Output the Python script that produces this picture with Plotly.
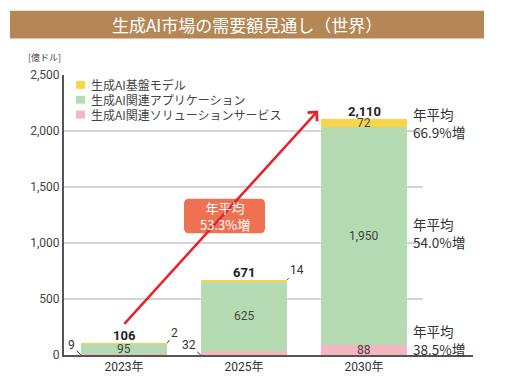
import plotly.graph_objects as go

# ---- data ----
years = ["2023年", "2025年", "2030年"]
solution = [9, 32, 88]        # 生成AI関連ソリューションサービス
application = [95, 625, 1950] # 生成AI関連アプリケーション
model = [2, 14, 72]           # 生成AI基盤モデル
totals = [106, 671, 2110]
cagr_labels = ["年平均<br>66.9%増", "年平均<br>54.0%増", "年平均<br>38.5%増"]
overall_cagr = "年平均<br>53.3%増"
y_ticks = [0, 500, 1000, 1500, 2000, 2500]
legend_names = ["生成AI基盤モデル", "生成AI関連アプリケーション", "生成AI関連ソリューションサービス"]

C_MODEL = "#FAD549"
C_APP = "#B4DBB1"
C_SOL = "#F5B5C1"
FONT = "Roboto, 'Noto Sans CJK JP', sans-serif"
JFONT = "'Noto Sans CJK JP', sans-serif"

W, H = 519, 386
L, R, T, B = 64, 46, 75, 28
XR = [-0.5, 2.908]
YR = [0, 2500]
pw, ph = W - L - R, H - T - B

def px_to_paper(px, py):
    return (px - L) / pw, (H - B - py) / ph

def px_to_data(px, py):
    return XR[0] + (px - L) / pw * (XR[1] - XR[0]), YR[0] + (H - B - py) / ph * (YR[1] - YR[0])

x = list(range(len(years)))
bw = 0.72

fig = go.Figure()
fig.add_trace(go.Bar(x=x, y=solution, name=legend_names[2],
                     marker=dict(color=C_SOL, line=dict(width=0)), width=bw))
fig.add_trace(go.Bar(x=x, y=application, name=legend_names[1],
                     marker=dict(color=C_APP, line=dict(width=0)), width=bw))
fig.add_trace(go.Bar(x=x, y=model, name=legend_names[0],
                     marker=dict(color=C_MODEL, line=dict(width=0)), width=bw))

shapes = []
annotations = []
# gridlines
for v in y_ticks[1:-1]:
    shapes.append(dict(type="line", xref="x", yref="y", x0=-0.5, x1=2.49, y0=v, y1=v,
                       line=dict(color="#AAAAAA", width=1), layer="below"))
# title banner
bx0, by0 = px_to_paper(10, 38)
bx1, by1 = px_to_paper(484, 10)
shapes.append(dict(type="rect", xref="paper", yref="paper", x0=bx0, x1=bx1, y0=by0, y1=by1,
                   fillcolor="#B58757", line=dict(width=0), layer="below"))

# manual legend (compact spacing as in reference)
for name, col, py in zip(legend_names, [C_MODEL, C_APP, C_SOL], [85, 100, 115]):
    sx0, sy0 = px_to_paper(76, py + 4)
    sx1, sy1 = px_to_paper(85, py - 4)
    shapes.append(dict(type="rect", xref="paper", yref="paper", x0=sx0, x1=sx1, y0=sy0, y1=sy1,
                       fillcolor=col, line=dict(width=0)))
    tx_, ty_ = px_to_paper(90, py)
    annotations.append(dict(x=tx_, y=ty_, xref="paper", yref="paper", text=name, showarrow=False,
                            xanchor="left", yanchor="middle", borderpad=0,
                            font=dict(family=JFONT, size=12, color="#444444")))

# rounded orange box
def rounded(px0, py0, px1, py1, r):
    x0, y0 = px_to_data(px0, py1)
    x1, y1 = px_to_data(px1, py0)
    rx = r / pw * (XR[1] - XR[0])
    ry = r / ph * (YR[1] - YR[0])
    return (f"M {x0+rx},{y0} L {x1-rx},{y0} Q {x1},{y0} {x1},{y0+ry} "
            f"L {x1},{y1-ry} Q {x1},{y1} {x1-rx},{y1} L {x0+rx},{y1} "
            f"Q {x0},{y1} {x0},{y1-ry} L {x0},{y0+ry} Q {x0},{y0} {x0+rx},{y0} Z")

# red arrow
ax_, ay_ = px_to_data(123, 328)
hx, hy = px_to_data(318, 111)
annotations.append(dict(x=hx, y=hy, ax=ax_, ay=ay_, xref="x", yref="y", axref="x", ayref="y",
                        showarrow=True, arrowhead=4, arrowsize=1.0, arrowwidth=2.5,
                        arrowcolor="#E8212B", text=""))
shapes.append(dict(type="path", xref="x", yref="y", path=rounded(184, 200, 265, 235, 5),
                   fillcolor="#EE7151", line=dict(width=0)))
cx, cy = px_to_data(225, 218)
annotations.append(dict(x=cx, y=cy, xref="x", yref="y", text=overall_cagr, showarrow=False,
                        xanchor="center", yanchor="middle",
                        font=dict(family=JFONT, size=13, color="white")))

# inside labels
for i in range(3):
    annotations.append(dict(x=i, y=solution[i] + application[i] / 2, xref="x", yref="y",
                            text=f"{application[i]:,}", showarrow=False,
                            xanchor="center", yanchor="middle",
                            font=dict(family=FONT, size=12, color="#444444")))
    annotations.append(dict(x=i, y=totals[i], xref="x", yref="y", text=f"<b>{totals[i]:,}</b>",
                            showarrow=False, xanchor="center", yanchor="bottom", yshift=-2,
                            font=dict(family=FONT, size=13, color="#222222")))
# 2030 inside small segments
annotations.append(dict(x=2, y=solution[2] / 2, xref="x", yref="y", text=f"{solution[2]}",
                        showarrow=False, xanchor="center", yanchor="middle",
                        font=dict(family=FONT, size=12, color="#444444")))
annotations.append(dict(x=2, y=solution[2] + application[2] + model[2] / 2, xref="x", yref="y",
                        text=f"{model[2]}", showarrow=False, xanchor="center", yanchor="middle",
                        font=dict(family=FONT, size=12, color="#444444")))
# leader-line labels
lead = [
    (0 - bw / 2, 0, f"{solution[0]}", -9, -10),
    (0 + bw / 2, totals[0], f"{model[0]}", 7, -10),
    (1 - bw / 2, 0, f"{solution[1]}", -12, -10),
    (1 + bw / 2, totals[1], f"{model[1]}", 10, -10),
]
for lx, ly, t, dx, dy in lead:
    annotations.append(dict(x=lx, y=ly, xref="x", yref="y", text=t, showarrow=True,
                            ax=dx, ay=dy, arrowhead=0, arrowwidth=1, arrowcolor="#333333",
                            standoff=0, startstandoff=0,
                            font=dict(family=FONT, size=12, color="#333333")))
# right CAGR labels
for t, py in zip(cagr_labels, [124, 235, 343]):
    px_, py_ = px_to_paper(411, py)
    annotations.append(dict(x=px_, y=py_, xref="paper", yref="paper", text=t, showarrow=False,
                            xanchor="left", yanchor="middle", align="left",
                            font=dict(family=JFONT, size=13.5, color="#333333")))
# title
tx, ty = px_to_paper(247, 24)
annotations.append(dict(x=tx, y=ty, xref="paper", yref="paper", text="生成AI市場の需要額見通し（世界）",
                        showarrow=False, xanchor="center", yanchor="middle",
                        font=dict(family=JFONT, size=17, color="white")))
# unit label
ux, uy = px_to_paper(44, 57)
annotations.append(dict(x=ux, y=uy, xref="paper", yref="paper", text="[億ドル]",
                        showarrow=False, xanchor="center", yanchor="middle",
                        font=dict(family=JFONT, size=9, color="#444444")))

fig.update_layout(
    width=W, height=H,
    margin=dict(l=L, r=R, t=T, b=B),
    paper_bgcolor="white", plot_bgcolor="white",
    barmode="stack",
    showlegend=False,
    xaxis=dict(range=XR, tickmode="array", tickvals=x, ticktext=years, showgrid=False,
               showline=True, linecolor="#555555", linewidth=2, zeroline=False,
               ticks="", tickfont=dict(family=FONT, size=12, color="#333333")),
    yaxis=dict(range=YR, tickmode="array", tickvals=y_ticks, tickformat=",", showgrid=False,
               showline=True, linecolor="#555555", linewidth=2, zeroline=False,
               ticks="", tickfont=dict(family=FONT, size=12, color="#444444")),
    shapes=shapes,
    annotations=annotations,
)
fig.write_html("out.html", config={"displayModeBar": False},
               post_script="document.body.style.margin='0';document.body.style.overflow='hidden';")
